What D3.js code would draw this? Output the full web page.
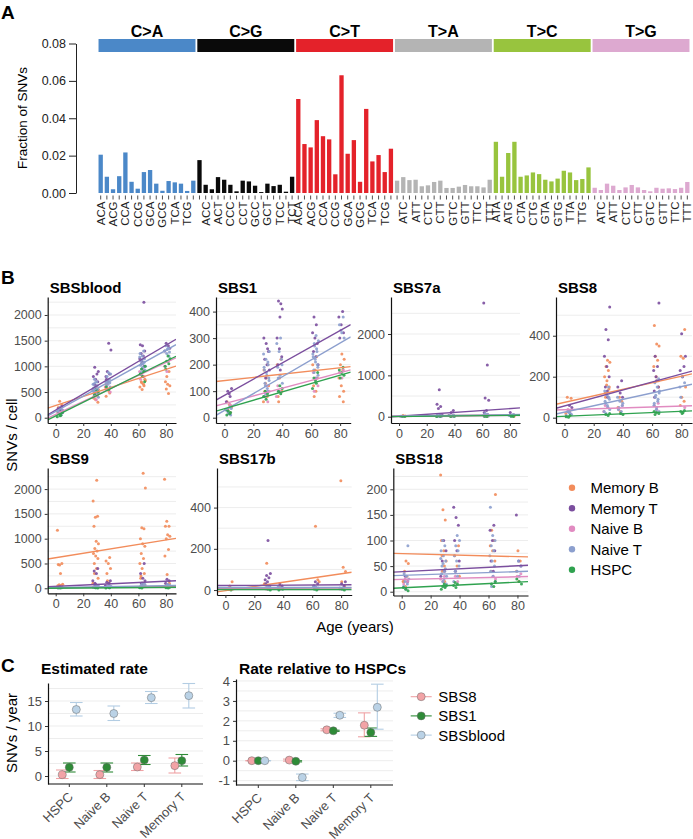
<!DOCTYPE html>
<html><head><meta charset="utf-8">
<script src="https://cdn.jsdelivr.net/npm/d3@7"></script>
<style>
body{margin:0;background:#fff}
svg{display:block}
text{font-family:"Liberation Sans",Arial,Helvetica,sans-serif}
</style>
</head><body>
<svg id="c" width="693" height="839"></svg>
<script>
// ---------------- DATA ----------------
// Panel A
const mutTypes=["C>A","C>G","C>T","T>A","T>C","T>G"];
const ctxC=["ACA","ACC","ACG","ACT","CCA","CCC","CCG","CCT","GCA","GCC","GCG","GCT","TCA","TCC","TCG","TCT"];
const ctxT=["ATA","ATC","ATG","ATT","CTA","CTC","CTG","CTT","GTA","GTC","GTG","GTT","TTA","TTC","TTG","TTT"];
const fracCA=[0.0205,0.0087,0.0020,0.0090,0.0217,0.0060,0.0023,0.0112,0.0123,0.0050,0.0012,0.0064,0.0057,0.0050,0.0011,0.0066];
const fracCG=[0.0176,0.0044,0.0020,0.0085,0.0071,0.0044,0.0009,0.0066,0.0062,0.0039,0.0005,0.0050,0.0037,0.0044,0.0007,0.0087];
const fracCT=[0.0503,0.0262,0.0244,0.0390,0.0304,0.0287,0.0100,0.0630,0.0210,0.0283,0.0060,0.0450,0.0169,0.0203,0.0112,0.0237];
const fracTA=[0.0066,0.0085,0.0069,0.0071,0.0036,0.0041,0.0059,0.0066,0.0027,0.0027,0.0034,0.0043,0.0036,0.0036,0.0030,0.0071];
const fracTC=[0.0274,0.0087,0.0214,0.0274,0.0087,0.0094,0.0110,0.0101,0.0071,0.0062,0.0077,0.0119,0.0110,0.0069,0.0075,0.0137];
const fracTG=[0.0028,0.0016,0.0050,0.0039,0.0016,0.0030,0.0043,0.0030,0.0016,0.0009,0.0028,0.0023,0.0025,0.0021,0.0028,0.0059];
const fracTicks=[0,0.02,0.04,0.06,0.08];

// Panel B
const cellTypes=["Memory B","Memory T","Naive B","Naive T","HSPC"];
const sigNames=["SBSblood","SBS1","SBS7a","SBS8","SBS9","SBS17b","SBS18"];
const ageTicks=[0,20,40,60,80];
// rows: [cell type index, donor age, SNVs per cell]
const ptsSBSblood=[
 [0,3,[150,200,250,320,120]],[0,29,[300,350,400,450,500,550,600,380,420,470]],[0,38,[420,480,550,600,520,650]],
 [0,63,[550,600,650,700,750,800,850,620,680,720]],[0,81,[470,560,620,650,700,900,800]],
 [1,3,[100,150,180,220]],[1,29,[650,700,750,800,850,980,900,620]],[1,38,[700,800,850,900,1320,1450,750]],
 [1,63,[1000,1100,1150,1200,1250,1300,1400,1420,2250,1050]],[1,81,[1300,1400,1450,1350]],
 [2,3,[100,150,200]],[2,29,[350,400,450,500,550]],[2,38,[500,550,600]],[2,63,[750,800,850,900,950]],[2,81,[900,1000,1100]],
 [3,3,[50,100,150,200,120,80,170]],[3,29,[400,450,500,550,600,650,700,750,480,520,580,620,680,530,560,440]],
 [3,38,[550,600,650,700,750,800,850,880,620,680,720]],
 [3,63,[800,850,900,950,1000,1050,1100,1150,1200,1250,1300,880,930,980,1020,1080,1130,1180]],[3,81,[1200,1250,1300,1350,1400,1280,1330]],
 [4,3,[20,50,80,100,40]],[4,29,[450,500,550]],[4,38,[550,600]],[4,63,[700,800,850,900,950,1000]],[4,81,[1000,1050,1100,1150,1200,950]]
];
const ptsSBS1=[
 [0,3,[20,30,40,50,60,45]],[0,29,[60,80,100,120,150,180,200,130]],[0,38,[80,100,150,200,220,60]],
 [0,63,[100,120,150,180,200,230,80]],[0,81,[100,120,150,180,200,220,240,80,60]],
 [1,3,[60,80,100,110,90]],[1,29,[150,180,200,220,250,280,300,260]],[1,38,[180,200,230,260,300,430,440,410,380]],
 [1,63,[200,230,250,280,300,320,350,380]],[1,81,[300,320,350,380,400]],
 [2,3,[20,30,50]],[2,29,[60,80,100,120]],[2,38,[80,100,120]],[2,63,[100,120,150,170]],[2,81,[150,170,180]],
 [3,3,[10,20,30,40,25,35,15]],[3,29,[80,100,120,140,160,180,200,220,240,110,130,150,170,190,210,90,250]],
 [3,38,[100,130,160,190,220,250,280,300,150,200]],[3,63,[150,170,190,210,230,250,270,290,310,180,200,220,240,260,280,160]],
 [3,81,[300,320,350,380,330]],
 [4,3,[10,20,25,30,15]],[4,29,[70,80,90,100]],[4,38,[90,100,110,120]],[4,63,[110,130,150,170,140]],[4,81,[150,160,170,180,190]]
];
const ptsSBS7a=[
 [0,3,[20,30]],[0,29,[10,20]],[0,38,[10]],[0,63,[10,20]],[0,81,[10]],
 [1,3,[10]],[1,29,[650,300,250,200,50,30,20]],[1,38,[150,100,30,20]],[1,63,[2750,1250,450,400,150,100,50,30]],[1,81,[100,50,30]],
 [2,3,[10]],[2,29,[10]],[2,63,[10]],
 [3,3,[5,10]],[3,29,[5,10,20,30,40,15]],[3,38,[10,20,30,40]],[3,63,[10,20,30,40,60,80]],[3,81,[10,30,50]],
 [4,3,[5,10]],[4,29,[5,10]],[4,38,[5,10]],[4,63,[5,10]],[4,81,[5,10]]
];
const ptsSBS8=[
 [0,3,[20,30,100,95]],[0,29,[100,150,180,200,230,250,270,280,120,140,160]],[0,38,[30,50,80,100]],
 [0,63,[150,200,250,280,300,350,360,450,180]],[0,81,[60,80,100,150,290,300,430,200]],
 [1,3,[30,50,60]],[1,29,[100,150,200,250,300,380,430,540,130]],[1,38,[100,120,150,180]],
 [1,63,[100,150,200,230,250,300,560,180,130]],[1,81,[200,230,250,410,300]],
 [2,3,[20,40]],[2,29,[30,50,60]],[2,38,[40,60]],[2,63,[40,60,70]],[2,81,[50]],
 [3,3,[10,20,30,15,25]],[3,29,[20,40,60,80,100,120,30,50,70,90,110,130,150]],[3,38,[20,40,60,80,100,30,50,70]],
 [3,63,[30,50,70,90,110,130,150,170,190,40,60,80,100,120]],[3,81,[100,170,200,150]],
 [4,3,[2,5,10]],[4,29,[10,15,20]],[4,38,[15,20]],[4,63,[15,20,25,30]],[4,81,[25,30,35,20]]
];
const ptsSBS9=[
 [0,3,[50,60,70,80,300,480,500,470,1170]],[0,29,[50,100,400,500,600,650,700,750,800,900,950,1250,1450,1430,1760,2180,300,200]],
 [0,38,[100,300,400,500,550,620,150]],[0,63,[50,100,200,300,400,500,600,700,850,900,1000,1200,1220,2020,2320,250]],
 [0,81,[50,100,280,650,780,1000,1050,1080,1250,1250,1350,2200]],
 [1,3,[30]],[1,29,[50,100,150,300,350,400,80]],[1,38,[50,100,120,150]],[1,63,[100,150,200,300,500,50]],[1,81,[50,100,150,180]],
 [2,3,[20]],[2,29,[20,40]],[2,38,[30]],[2,63,[30,50]],[2,81,[40]],
 [3,3,[5,10,20]],[3,29,[10,20,30,40,50,60]],[3,38,[10,20,40,60]],[3,63,[20,40,60,80,100]],[3,81,[30,60,80]],
 [4,3,[5,10]],[4,29,[5,10]],[4,38,[5,10]],[4,63,[5,10]],[4,81,[5,10,20]]
];
const ptsSBS17b=[
 [0,3,[10,40,20]],[0,29,[5,10,20,130,30]],[0,38,[10,20]],[0,63,[20,50,310,40]],[0,81,[40,90,110,530,20]],
 [1,3,[10]],[1,29,[20,40,50,60,70,80,240,30]],[1,38,[10,20,30]],[1,63,[10,20,30,40]],[1,81,[20,30,40]],
 [2,3,[5,10]],[2,29,[5,10]],[2,38,[5]],[2,63,[5,10]],[2,81,[5]],
 [3,3,[5]],[3,29,[5,10,15,20]],[3,38,[5,10,15]],[3,63,[5,10,15,20]],[3,81,[5,10]],
 [4,3,[0,5]],[4,29,[0,5]],[4,38,[0,5]],[4,63,[0,5]],[4,81,[0,5]]
];
const ptsSBS18=[
 [0,3,[10,20,30,40,55,60,20]],[0,29,[20,40,60,80,100,140,160,228,50,70]],[0,38,[30,50,70,90]],
 [0,63,[40,60,80,90,100,120,190]],[0,81,[20,40,60,80]],
 [1,3,[20,30]],[1,29,[30,40,60,80,100]],[1,38,[40,60,80,100,130,145,165]],[1,63,[40,60,80,100,120,130]],[1,81,[50,60,150]],
 [2,3,[15,20,25]],[2,29,[20,25,30]],[2,38,[20,30]],[2,63,[25,30]],[2,81,[30,35]],
 [3,3,[5,10,15,20,25,30,35,90]],[3,29,[10,20,30,40,50,60,70,80,90,100,15,25,35,45,55,65]],
 [3,38,[20,30,40,50,60,70,80,90,100,110]],[3,63,[10,20,30,40,50,60,70,80,90,100,110,165]],[3,81,[30,40,50,60]],
 [4,3,[2,5,8]],[4,29,[5,8,10,12,15]],[4,38,[8,12,15,18]],[4,63,[10,15,20]],[4,81,[15,20,25]]
];
// linear fits per cell type: [intercept, slope]
const fitSBSblood=[[236,8.8],[147,15.8],[66,12.6],[122,14.9],[35,13.3]];
const fitSBS1=[[140,0.6],[84,3.06],[53,1.46],[27,3.18],[34,1.58]];
const fitSBS7a=[[15,0.35],[12,2.3],[8,0.3],[15,0.45],[5,0.35]];
const fitSBS8=[[75,1.59],[57,1.95],[39,0.22],[27,1.56],[7,0.3]];
const fitSBS9=[[617,4.47],[40,1.3],[10,0.3],[15,0.5],[3,0.2]];
const fitSBS17b=[[-3,1.02],[22,0.04],[8,0.02],[13,0.0],[3,0.0]];
const fitSBS18=[[74.5,-0.075],[39,0.145],[24,0.065],[32,0.09],[7.5,0.14]];
const yTicksB=[[0,500,1000,1500,2000],[0,100,200,300,400],[0,1000,2000],[0,200,400],[0,500,1000,1500,2000],[0,200,400],[0,50,100,150,200]];
const yDomB=[[-103,2350],[-20,455],[-152,2895],[-26,589],[-101,2425],[-24,592],[-7.4,241.6]];
const minorB=[250,50,500,100,250,100,25];

// Panel C
const rateCats=["HSPC","Naive B","Naive T","Memory T"];
const rateSigs=["SBS8","SBS1","SBSblood"];
const estVal=[[0.27,0.27,1.8,2.07],[1.73,1.73,3.2,3.07],[13.3,12.5,15.67,16.07]];
const estLo=[[-0.5,-0.5,1.1,0.6],[0.8,0.8,2.3,2.0],[12.0,11.1,14.5,13.6]];
const estHi=[[1.2,1.1,2.6,3.6],[2.6,2.6,4.1,4.3],[14.7,14.0,16.9,18.5]];
const relVal=[[0,0.03,1.55,1.78],[0,-0.03,1.5,1.42],[0,-0.84,2.28,2.68]];
const relLo=[[0,-0.02,1.5,1.2],[0,-0.06,1.47,1.22],[0,-1.0,2.17,1.58]];
const relHi=[[0,0.08,1.6,2.4],[0,0.0,1.53,1.64],[0,-0.67,2.38,3.84]];
const estTicks=[0,5,10,15];
const relTicks=[-1,0,1,2,3,4];

// ---------------- STYLE / LAYOUT ----------------
const mutColors=["#4B88C8","#0A0A0A","#E4222A","#B4B4B4","#98C43E","#DDA9D0"];
const cellColors=["#F28C5B","#7B4E9E","#E18BC1","#8C9FCE","#2FA24F"];
const sigFill=["#F2A3A6","#2E8B37","#BAD2E6"];
const sigBar=["#EFA2A5","#2E8B37","#B3CDE3"];
const gridCol="#EBEBEB", tickTxt="#4D4D4D";
const intFmt=d=>(d<0?"-":"")+Math.abs(d);

const svg=d3.select("#c");

// panel labels
[["A",1,19],["B",1,284],["C",1,672]].forEach(([t,x,y])=>svg.append("text").attr("x",x).attr("y",y).text(t)
  .attr("font-size",19).attr("font-weight","bold"));

// ---------------- PANEL A ----------------
const fracs=[fracCA,fracCG,fracCT,fracTA,fracTC,fracTG];
const bars=[];
mutTypes.forEach((m,g)=>{(g<3?ctxC:ctxT).forEach((c,j)=>bars.push({i:g*16+j,g,j,ctx:c,v:fracs[g][j]}));});
const xA=d3.scaleBand().domain(d3.range(96)).range([97.6,690.4]).paddingInner(0.3).paddingOuter(0.15);
const yA=d3.scaleLinear().domain([0,0.08]).range([193,43.5]);
const gA=svg.append("g");
gA.selectAll("rect.bar").data(bars).join("rect").attr("class","bar")
  .attr("x",d=>xA(d.i)).attr("width",xA.bandwidth())
  .attr("y",d=>yA(d.v)).attr("height",d=>yA(0)-yA(d.v))
  .attr("fill",d=>mutColors[d.g]);
// strips
mutTypes.forEach((m,g)=>{
  const x0=xA(g*16), x1=xA(g*16+15)+xA.bandwidth();
  gA.append("rect").attr("x",x0).attr("y",39).attr("width",x1-x0).attr("height",13).attr("fill",mutColors[g]);
  gA.append("text").attr("x",(x0+x1)/2).attr("y",37).attr("text-anchor","middle")
    .attr("font-size",16).attr("font-weight","bold").text(m);
});
// y axis
const axA=gA.append("g").attr("transform","translate(76,0)")
  .call(d3.axisLeft(yA).tickValues(fracTicks).tickFormat(d3.format(".2f")).tickSize(7).tickSizeOuter(0).tickPadding(3));
axA.selectAll("text").attr("font-size",12.5).attr("fill","#222").style("font-family",'"Liberation Sans",Arial,sans-serif');
axA.selectAll("line,path").attr("stroke","#222");
gA.append("text").attr("transform","translate(26.5,118) rotate(-90)").attr("text-anchor","middle")
  .attr("font-size",13.5).text("Fraction of SNVs");
// x ticks + labels
gA.selectAll("line.xt").data(bars).join("line").attr("class","xt")
  .attr("x1",d=>xA(d.i)+xA.bandwidth()/2).attr("x2",d=>xA(d.i)+xA.bandwidth()/2)
  .attr("y1",195.5).attr("y2",199.5).attr("stroke","#222").attr("stroke-width",0.8);
gA.selectAll("text.xl").data(bars.filter(d=>(d.g%2===0)?(d.j%2===0):(d.j%2===1))).join("text").attr("class","xl")
  .attr("transform",d=>`translate(${xA(d.i)+xA.bandwidth()/2},201.5) rotate(-90)`)
  .attr("text-anchor","end").attr("dy","0.35em").attr("font-size",11.5).attr("fill","#222").text(d=>d.ctx);

// ---------------- PANEL B ----------------
const ptsAll=[ptsSBSblood,ptsSBS1,ptsSBS7a,ptsSBS8,ptsSBS9,ptsSBS17b,ptsSBS18];
const fitAll=[fitSBSblood,fitSBS1,fitSBS7a,fitSBS8,fitSBS9,fitSBS17b,fitSBS18];
const facL=[47.7,216,391,556,47.7,217,393.3];
const facR=[176,350.7,520,692,176,351.7,528];
const facT=[297,297,297,297,468,468,468];
const facB=[423,423,423,423,593.3,595,595.5];
const ageDom=[-5.8,87.3];

sigNames.forEach((name,k)=>{
  const L=facL[k],R=facR[k],T=facT[k],B=facB[k];
  const g=svg.append("g");
  const xS=d3.scaleLinear().domain(ageDom).range([L,R]);
  const yS=d3.scaleLinear().domain(yDomB[k]).range([B,T]);
  const mn=minorB[k];
  const gv=d3.range(Math.ceil(yDomB[k][0]/mn)*mn,yDomB[k][1]+1e-9,mn);
  g.selectAll("line.grid").data(gv).join("line")
    .attr("x1",L).attr("x2",R).attr("y1",d=>yS(d)).attr("y2",d=>yS(d))
    .attr("stroke",gridCol).attr("stroke-width",0.9);
  const cid="clipB"+k;
  svg.append("clipPath").attr("id",cid).append("rect").attr("x",L).attr("y",T).attr("width",R-L).attr("height",B-T);
  const inner=g.append("g").attr("clip-path",`url(#${cid})`);
  // points
  const pts=[];
  ptsAll[k].forEach((row,ri)=>{
    row[2].forEach((v,n)=>{
      const jit=(((n+1)*0.6180339887+ri*0.2718+k*0.131)%1-0.5)*4.2; // jitter (position adjustment)
      pts.push({c:row[0],x:row[1]+jit,v});
    });
  });
  inner.selectAll("circle").data(pts).join("circle")
    .attr("cx",d=>xS(d.x)).attr("cy",d=>yS(d.v)).attr("r",1.5)
    .attr("fill",d=>cellColors[d.c]).attr("fill-opacity",0.9);
  // fitted lines
  fitAll[k].forEach((f,c)=>{
    inner.append("line")
      .attr("x1",xS(ageDom[0])).attr("y1",yS(f[0]+f[1]*ageDom[0]))
      .attr("x2",xS(ageDom[1])).attr("y2",yS(f[0]+f[1]*ageDom[1]))
      .attr("stroke",cellColors[c]).attr("stroke-width",1.4);
  });
  // axes
  const ay=g.append("g").attr("transform",`translate(${L},0)`)
    .call(d3.axisLeft(yS).tickValues(yTicksB[k]).tickFormat(intFmt).tickSize(3).tickSizeOuter(0).tickPadding(3));
  const ax=g.append("g").attr("transform",`translate(0,${B})`)
    .call(d3.axisBottom(xS).tickValues(ageTicks).tickFormat(intFmt).tickSize(3).tickSizeOuter(0).tickPadding(3));
  [ay,ax].forEach(a=>{
    a.select("path.domain").attr("stroke","#111").attr("stroke-width",1.2);
    a.selectAll(".tick line").attr("stroke","#333");
    a.selectAll("text").attr("font-size",12.5).attr("fill",tickTxt).style("font-family",'"Liberation Sans",Arial,sans-serif');
  });
  g.append("text").attr("x",L+2).attr("y",T-4).attr("font-size",15).attr("font-weight","bold").text(name);
});
svg.append("text").attr("transform","translate(17,435) rotate(-90)").attr("text-anchor","middle")
  .attr("font-size",15).text("SNVs / cell");
svg.append("text").attr("x",355).attr("y",632).attr("text-anchor","middle").attr("font-size",15).text("Age (years)");
// legend B
cellTypes.forEach((c,i)=>{
  const y=487.7+i*20.5;
  svg.append("circle").attr("cx",572).attr("cy",y).attr("r",3.2).attr("fill",cellColors[i]);
  svg.append("text").attr("x",590.5).attr("y",y).attr("dy","0.36em").attr("font-size",15).text(c);
});

// ---------------- PANEL C ----------------
function ratePanel(opt){
  const g=svg.append("g");
  const xS=d3.scalePoint().domain(rateCats).range(opt.xr);
  const yS=d3.scaleLinear().domain(opt.ydom).range([opt.B,opt.T]);
  const gv=d3.range(Math.ceil(opt.ydom[0]/opt.minor)*opt.minor,opt.ydom[1]+1e-9,opt.minor);
  g.selectAll("line.grid").data(gv).join("line")
    .attr("x1",opt.L).attr("x2",opt.R).attr("y1",d=>yS(d)).attr("y2",d=>yS(d))
    .attr("stroke",gridCol).attr("stroke-width",0.9);
  const dodge=[-opt.dw,0,opt.dw];
  const cw=6.3;
  rateSigs.forEach((s,si)=>{
    rateCats.forEach((c,ci)=>{
      const cx=xS(c)+dodge[si];
      const lo=yS(opt.lo[si][ci]), hi=yS(opt.hi[si][ci]);
      g.append("line").attr("x1",cx).attr("x2",cx).attr("y1",lo).attr("y2",hi).attr("stroke",sigBar[si]).attr("stroke-width",1.1);
      [lo,hi].forEach(y=>g.append("line").attr("x1",cx-cw).attr("x2",cx+cw).attr("y1",y).attr("y2",y).attr("stroke",sigBar[si]).attr("stroke-width",1.1));
    });
  });
  rateSigs.forEach((s,si)=>{
    rateCats.forEach((c,ci)=>{
      g.append("circle").attr("cx",xS(c)+dodge[si]).attr("cy",yS(opt.val[si][ci])).attr("r",4)
        .attr("fill",sigFill[si]).attr("stroke","#6b6b6b").attr("stroke-width",0.5);
    });
  });
  const ay=g.append("g").attr("transform",`translate(${opt.L},0)`)
    .call(d3.axisLeft(yS).tickValues(opt.ticks).tickFormat(intFmt).tickSize(3).tickSizeOuter(0).tickPadding(3));
  ay.select("path.domain").attr("stroke","#111").attr("stroke-width",1.2);
  ay.selectAll(".tick line").attr("stroke","#333");
  ay.selectAll("text").attr("font-size",13).attr("fill",tickTxt).style("font-family",'"Liberation Sans",Arial,sans-serif');
  g.append("line").attr("x1",opt.L).attr("x2",opt.R).attr("y1",opt.B).attr("y2",opt.B).attr("stroke","#111").attr("stroke-width",1.2);
  rateCats.forEach(c=>{
    const cx=xS(c);
    g.append("line").attr("x1",cx).attr("x2",cx).attr("y1",opt.B).attr("y2",opt.B+3).attr("stroke","#333");
    g.append("text").attr("transform",`translate(${cx-2},${opt.B+7}) rotate(-45)`).attr("text-anchor","end")
      .attr("dy","0.71em").attr("font-size",13).attr("fill",tickTxt).text(c);
  });
  g.append("text").attr("x",opt.tx).attr("y",673.5).attr("font-size",15.5).attr("font-weight","bold").text(opt.title);
}
ratePanel({xr:[69.3,181.8],L:48,R:203,T:683,B:784,ydom:[-1.6,18.6],minor:2.5,ticks:estTicks,dw:7,
  val:estVal,lo:estLo,hi:estHi,title:"Estimated rate",tx:41});
ratePanel({xr:[258.3,370.8],L:236,R:393,T:679,B:785,ydom:[-1.22,4.1],minor:0.5,ticks:relTicks,dw:6.5,
  val:relVal,lo:relLo,hi:relHi,title:"Rate relative to HSPCs",tx:239});
svg.append("text").attr("transform","translate(17,733) rotate(-90)").attr("text-anchor","middle")
  .attr("font-size",15).text("SNVs / year");
// legend C
rateSigs.forEach((s,i)=>{
  const y=696.7+i*19.2;
  svg.append("line").attr("x1",410.7).attr("x2",431.7).attr("y1",y).attr("y2",y).attr("stroke",sigBar[i]).attr("stroke-width",1.1);
  svg.append("circle").attr("cx",421.2).attr("cy",y).attr("r",4).attr("fill",sigFill[i]).attr("stroke","#6b6b6b").attr("stroke-width",0.5);
  svg.append("text").attr("x",438.3).attr("y",y).attr("dy","0.36em").attr("font-size",15).text(s);
});
</script>
</body></html>
